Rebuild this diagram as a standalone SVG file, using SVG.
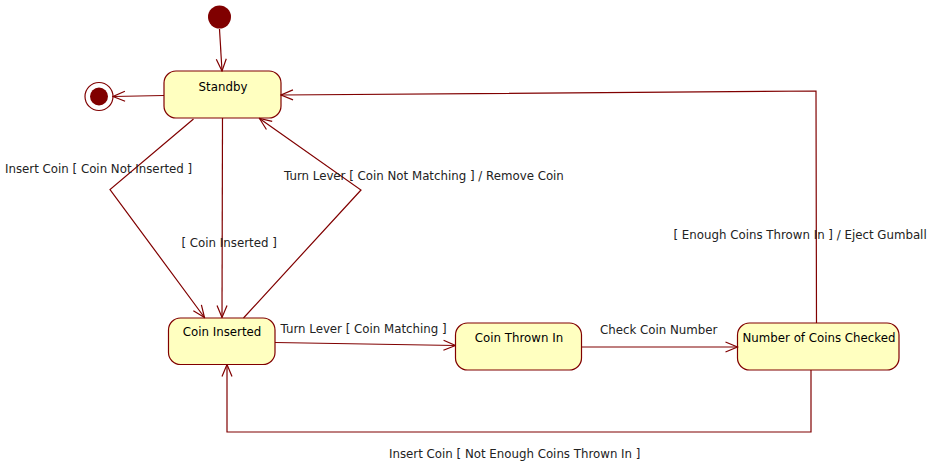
<svg xmlns="http://www.w3.org/2000/svg" width="934" height="464" viewBox="0 0 934 464">
  <style>
    .state rect { fill: #ffffc0; stroke: #800000; stroke-width: 1.2; }
    .name { font-family: "DejaVu Sans", "Liberation Sans", sans-serif; font-size: 11.8px; fill: #000; text-anchor: middle; }
    .label { font-family: "DejaVu Sans", "Liberation Sans", sans-serif; font-size: 11.8px; fill: #222; }
    .edge { fill: none; stroke: #800000; stroke-width: 1.2; }
  </style>
  <defs>
    <marker id="open" viewBox="0 0 14 12" refX="13" refY="6" markerWidth="14" markerHeight="12" markerUnits="userSpaceOnUse" orient="auto">
      <path d="M1,1 L13,6 L1,11" fill="none" stroke="#800000" stroke-width="1.2"/>
    </marker>
  </defs>

  <rect width="934" height="464" fill="#fff"/>

  <!-- pseudo states -->
  <g id="initial">
    <circle cx="219.5" cy="17" r="11.5" fill="#800000"/>
  </g>
  <g id="final">
    <circle cx="99" cy="96.5" r="14" fill="#fff" stroke="#800000" stroke-width="1.2"/>
    <circle cx="99" cy="96.5" r="9" fill="#800000"/>
  </g>

  <!-- states -->
  <g id="standby" class="state">
    <rect x="164" y="71" width="117" height="47" rx="12"/>
    <text class="name" x="223" y="90.5">Standby</text>
  </g>
  <g id="coin-inserted" class="state">
    <rect x="168.5" y="318" width="106.5" height="46.5" rx="12"/>
    <text class="name" x="222" y="336">Coin Inserted</text>
  </g>
  <g id="coin-thrown-in" class="state">
    <rect x="455.5" y="323" width="126" height="47" rx="12"/>
    <text class="name" x="519" y="341.5">Coin Thrown In</text>
  </g>
  <g id="coins-checked" class="state">
    <rect x="737.5" y="323" width="161.5" height="47" rx="12"/>
    <text class="name" x="819" y="341.5">Number of Coins Checked</text>
  </g>

  <!-- transitions -->
  <g id="connectors">
    <path class="edge" marker-end="url(#open)" d="M219.5,29 L222,71"/>
    <path class="edge" marker-end="url(#open)" d="M164,95.5 L113,96.5"/>
    <path class="edge" marker-end="url(#open)" d="M193.5,119 L110,189.5 L204.5,317.5"/>
    <path class="edge" marker-end="url(#open)" d="M222.5,118 L222,317.5"/>
    <path class="edge" marker-end="url(#open)" d="M243.5,318 L361,190 L259.5,118.5"/>
    <path class="edge" marker-end="url(#open)" d="M275,342.5 L455.5,345.5"/>
    <path class="edge" marker-end="url(#open)" d="M581.5,347 L737.5,347"/>
    <path class="edge" marker-end="url(#open)" d="M816.5,323 L816,91 L281,95"/>
    <path class="edge" marker-end="url(#open)" d="M811,370 L811,432 L227,432 L227,364.5"/>
  </g>

  <!-- transition labels -->
  <g id="labels">
    <text class="label" x="5" y="173">Insert Coin [ Coin Not Inserted ]</text>
    <text class="label" x="181.5" y="247">[ Coin Inserted ]</text>
    <text class="label" x="284" y="179.5">Turn Lever [ Coin Not Matching ] / Remove Coin</text>
    <text class="label" x="280.5" y="332.5">Turn Lever [ Coin Matching ]</text>
    <text class="label" x="600" y="333.5">Check Coin Number</text>
    <text class="label" x="673.5" y="238.5">[ Enough Coins Thrown In ] / Eject Gumball</text>
    <text class="label" x="389" y="457.5">Insert Coin [ Not Enough Coins Thrown In ]</text>
  </g>
</svg>
